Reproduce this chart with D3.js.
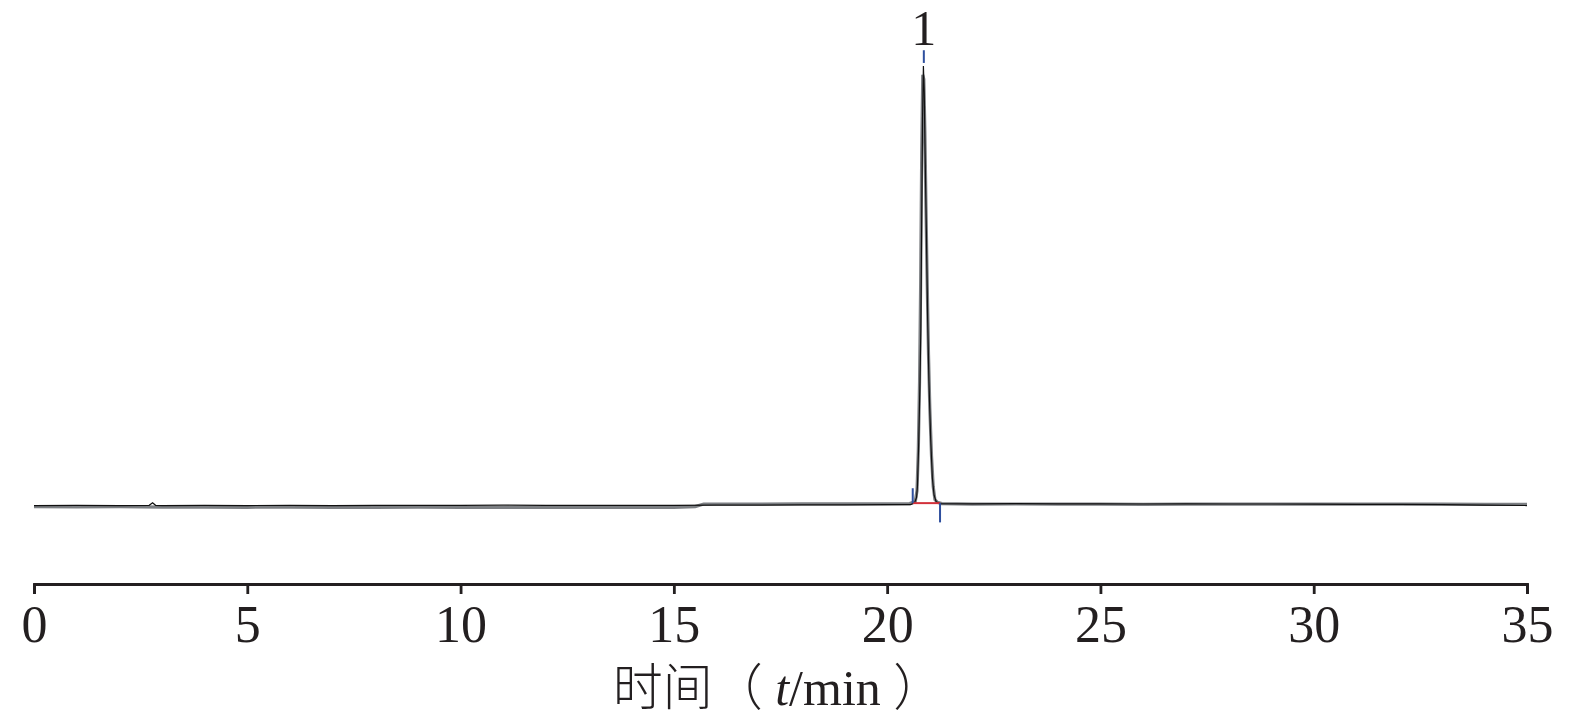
<!DOCTYPE html>
<html lang="zh">
<head>
    <meta charset="UTF-8">
    <title>色谱图</title>
    <script src="https://d3js.org/d3.v7.min.js"></script>
    <style>
        body { margin: 0; background: #fff; }
        .axis path, .axis line { stroke: #231f20; stroke-width: 2.8; }
        .axis text { font-family: "Liberation Serif", "Times New Roman", serif; font-size: 52px; fill: #231f20; }
        .title { font-family: "Liberation Serif", serif; font-size: 50px; fill: #231f20; }
        .cjk { font-family: "Noto Sans CJK SC", sans-serif; font-weight: 300; }
    </style>
</head>
<body>
<svg id="chart" width="1575" height="722"></svg>
<script>
    // tick labels on the time axis (min)
    const timeTicks = [0, 5, 10, 15, 20, 25, 30, 35];

    // black trace: [time (min), signal]
    const blackTrace = [
        [0, -0.35], [1, -0.3], [2, -0.35], [2.7, -0.3], [2.78, 0.3], [2.85, -0.3], [3, -0.35],
        [4, -0.3], [5, -0.35], [6, -0.3], [7, -0.35], [8, -0.3], [9, -0.3], [10, -0.3],
        [11, -0.25], [12, -0.3], [13, -0.3], [14, -0.3], [15, -0.3], [16, -0.25], [17, -0.25],
        [18, -0.2], [19, -0.2], [20, -0.15], [20.55, -0.15],
        [20.64, 0.2], [20.69, 1.5], [20.71, 4], [20.74, 14], [20.77, 28], [20.79, 40],
        [20.81, 65], [20.83, 88], [20.85, 100], [20.87, 94], [20.89, 80], [20.92, 62],
        [20.95, 42], [20.98, 28], [21.02, 15], [21.06, 6], [21.10, 2], [21.15, 0.5],
        [21.25, 0.1], [22, 0.05], [23, 0.1], [24, 0.05], [25, 0.05], [26, 0], [27, 0.05],
        [28, 0], [29, 0], [30, -0.05], [31, -0.1], [32, -0.1], [33, -0.15], [34, -0.25], [35, -0.35]
    ];

    // grey trace: [time (min), signal]
    const grayTrace = [
        [0, -0.6], [1, -0.65], [2, -0.6], [3, -0.7], [4, -0.7], [5, -0.75], [6, -0.7],
        [7, -0.75], [8, -0.75], [9, -0.7], [10, -0.8], [11, -0.8], [12, -0.75], [13, -0.8],
        [14, -0.8], [15, -0.75], [15.5, -0.6], [15.7, 0], [16, 0], [17, 0], [18, 0.05],
        [19, 0.05], [20, 0.05], [20.53, 0.1],
        [20.66, 0.6], [20.70, 3], [20.73, 12], [20.76, 28], [20.785, 50], [20.81, 80],
        [20.835, 98], [20.86, 97], [20.885, 85], [20.91, 68], [20.94, 50], [20.97, 34],
        [21.00, 22], [21.04, 11], [21.08, 4], [21.12, 1], [21.18, 0.4], [21.28, 0.1],
        [22, -0.05], [23, 0], [24, -0.05], [25, -0.05], [26, -0.1], [27, -0.05], [28, -0.05],
        [29, -0.05], [30, -0.05], [31, -0.05], [32, -0.05], [33, -0.05], [34, -0.1], [35, -0.1]
    ];

    // integration marks of peak 1
    const peakLabel = "1";
    const peakApex = 20.86;
    const peakStart = 20.60;
    const peakEnd = 21.24;
    const integBase = 0.2;

    const svg = d3.select("#chart");

    const x = d3.scaleLinear().domain([0, 35]).range([34, 1527]);
    const y = d3.scaleLinear().domain([0, 100]).range([504, 66]);

    const line = d3.line()
        .x(d => x(d[0]))
        .y(d => y(d[1]));

    // grey trace under the black one
    svg.append("path")
        .datum(grayTrace)
        .attr("fill", "none")
        .attr("stroke", "#7c7f83")
        .attr("stroke-width", 3.2)
        .attr("d", line);

    svg.append("path")
        .datum(blackTrace)
        .attr("fill", "none")
        .attr("stroke", "#111")
        .attr("stroke-width", 1.2)
        .attr("d", line);

    // integration baseline
    svg.append("line")
        .attr("x1", x(peakStart)).attr("x2", x(peakEnd))
        .attr("y1", y(integBase)).attr("y2", y(integBase))
        .attr("stroke", "#d2303a")
        .attr("stroke-width", 2);

    // start / end / apex markers
    const blue = "#2e4f9e";
    svg.append("line")
        .attr("x1", x(peakStart)).attr("x2", x(peakStart))
        .attr("y1", y(3.6)).attr("y2", y(integBase))
        .attr("stroke", blue).attr("stroke-width", 2);
    svg.append("line")
        .attr("x1", x(peakEnd)).attr("x2", x(peakEnd))
        .attr("y1", y(integBase)).attr("y2", y(-4.2))
        .attr("stroke", blue).attr("stroke-width", 2);
    svg.append("line")
        .attr("x1", x(peakApex)).attr("x2", x(peakApex))
        .attr("y1", y(103.6)).attr("y2", y(100.7))
        .attr("stroke", blue).attr("stroke-width", 2);

    svg.append("text")
        .attr("class", "title")
        .attr("x", x(peakApex))
        .attr("y", 45)
        .attr("text-anchor", "middle")
        .style("font-size", "50px")
        .text(peakLabel);

    // time axis
    const axis = svg.append("g")
        .attr("class", "axis")
        .attr("transform", "translate(0,584)")
        .call(d3.axisBottom(x).tickValues(timeTicks).tickSize(10).tickSizeOuter(10));
    axis.selectAll("text").attr("y", 58).attr("dy", null);

    // axis title
    const title = svg.append("text")
        .attr("class", "title")
        .attr("x", 778)
        .attr("y", 705)
        .attr("text-anchor", "middle");
    title.append("tspan").attr("class", "cjk").text("时间（");
    title.append("tspan").text(" ");
    title.append("tspan").style("font-style", "italic").text("t");
    title.append("tspan").text("/min ");
    title.append("tspan").attr("class", "cjk").text("）");
</script>
</body>
</html>
